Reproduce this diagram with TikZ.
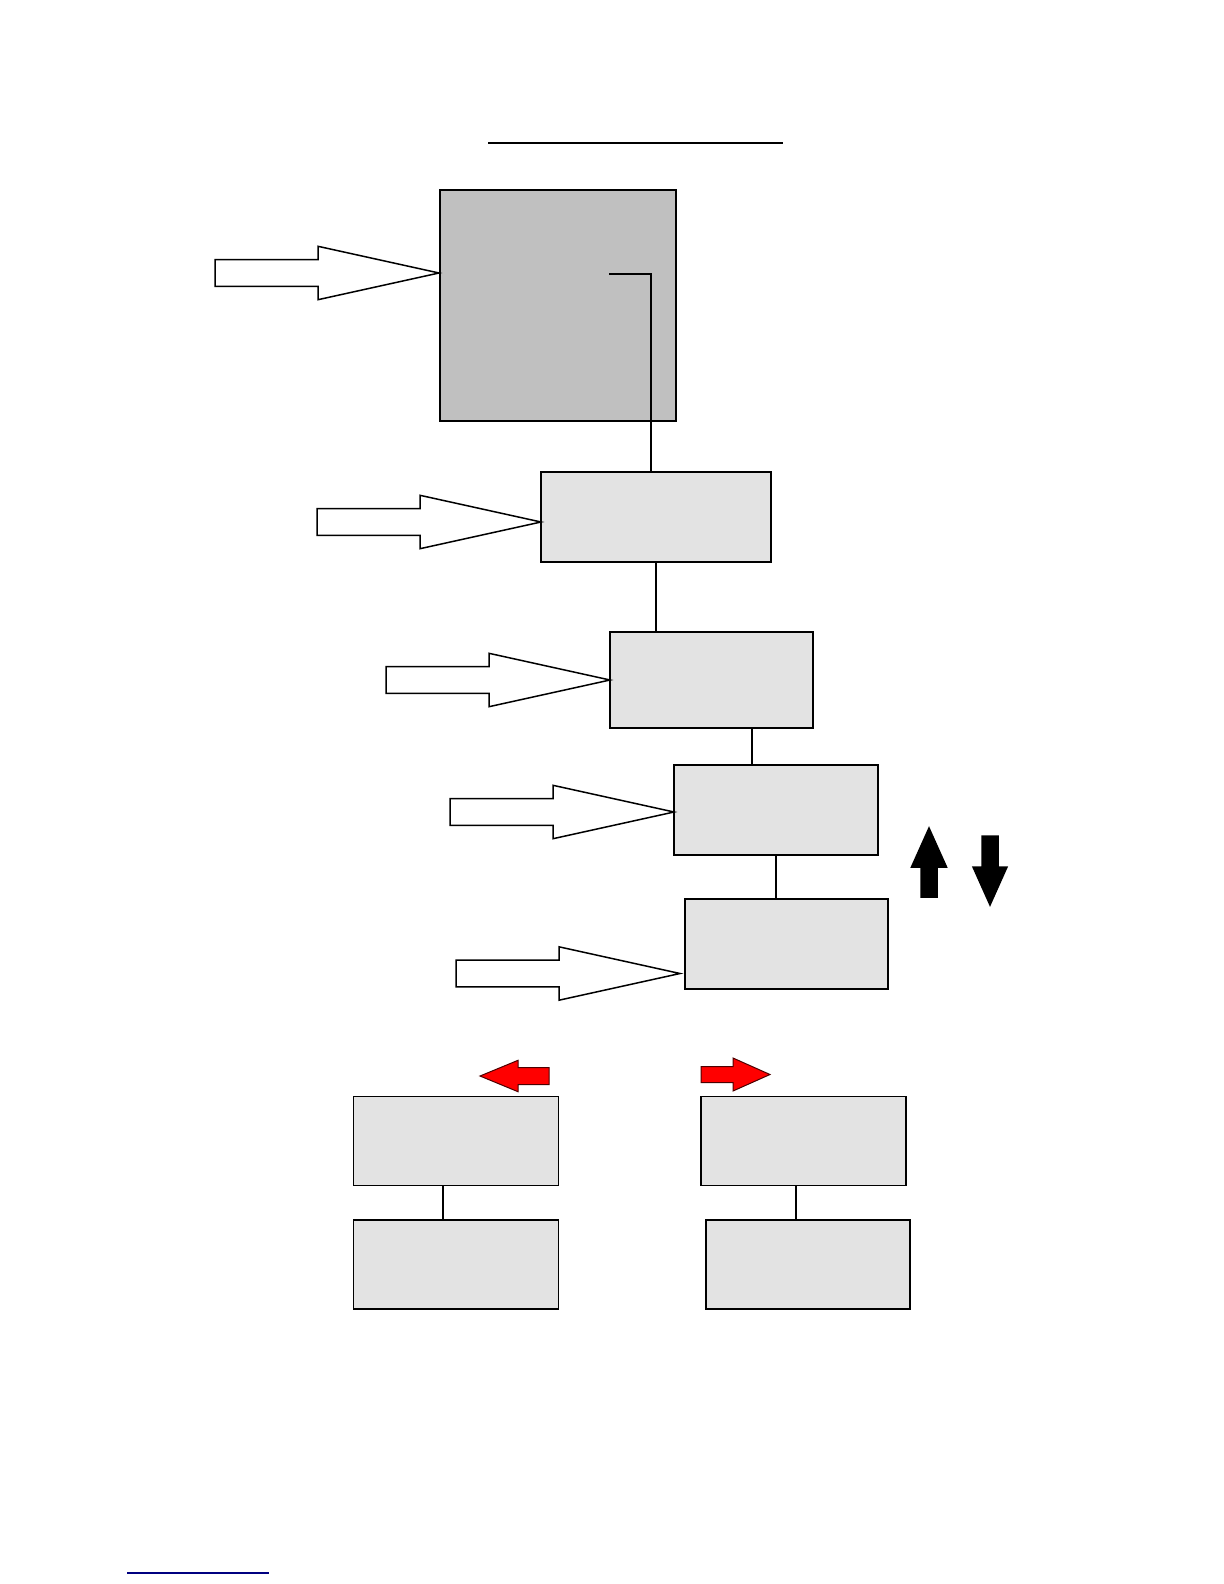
\documentclass[tikz,border=0pt]{standalone}
\usepackage{tikz}
\usetikzlibrary{positioning}
\definecolor{darkgrey}{HTML}{C0C0C0}
\definecolor{lightgrey}{HTML}{E3E3E3}
\definecolor{navyline}{HTML}{000080}
\tikzset{box/.style = {draw, fill=lightgrey, line width=.9pt, inner sep=0pt},
  bigbox/.style = {box, fill=darkgrey, line width=1.2pt},
  hollow/.style = {draw, fill=white, line width=.75pt},
  solid black/.style = {fill=black},
  redarrow/.style = {draw=black!70!red, fill=red, line width=.5pt}}
% style, tip, angle, length, head length, shaft half width, head half width
\newcommand{\blockarrow}[7]{%
  \draw[#1, shift={#2}, rotate=#3] (0,0) -- (-#5,-#7) -- (-#5,-#6) -- (-#4,-#6)
    -- (-#4,#6) -- (-#5,#6) -- (-#5,#7) -- cycle;}

\begin{document}
\begin{tikzpicture}[x=.5pt, y=-.5pt, line width=.75pt]
      \useasboundingbox (0,0) rectangle (1224,1584);
      \draw[line width=1pt] (488,143) -- (783,143);
      \node[bigbox, minimum width=118pt, minimum height=115.5pt] (core) at (558,305.5) {};
      \node[box, minimum width=115pt, minimum height=45pt] (stepa) at (656,517) {};
      \node[box, minimum width=101.5pt, minimum height=48pt] (stepb) at (711.5,680) {};
      \node[box, minimum width=102pt, minimum height=44.75pt] (stepc) at (776,810) {};
      \node[box, minimum width=101.5pt, minimum height=45pt] (stepd) at (786.5,944) {};
      \node[box, minimum width=102.5pt, minimum height=44.5pt] (lefta) at (456,1141) {};
      \node[box, minimum width=102.5pt, minimum height=44.5pt] (leftb) at (456,1264.5) {};
      \node[box, minimum width=102.5pt, minimum height=44.5pt] (righta) at (803.5,1141) {};
      \node[box, minimum width=102pt, minimum height=44.5pt] (rightb) at (808,1264.5) {};
      \coordinate (inner) at (609,274);
      \draw (inner) -| ([xshift=-2.5pt]stepa.north);
      \draw (stepa.south) -- (stepa.south |- stepb.north);
      \draw ([xshift=20.25pt]stepb.south) -- ([xshift=20.25pt]stepb.south |- stepc.north);
      \draw (stepc.south) -- (stepc.south |- stepd.north);
      \draw ([xshift=-6.5pt]lefta.south) -- ([xshift=-6.5pt]lefta.south |- leftb.north);
      \draw ([xshift=-3.75pt]righta.south) -- ([xshift=-3.75pt]righta.south |- rightb.north);
      \blockarrow{hollow}{(439,273)}{0}{224}{121}{13.3}{26.7}
      \blockarrow{hollow}{(541,522)}{0}{224}{121}{13.3}{26.7}
      \blockarrow{hollow}{(610,680)}{0}{224}{121}{13.3}{26.7}
      \blockarrow{hollow}{(674,812)}{0}{224}{121}{13.3}{26.7}
      \blockarrow{hollow}{(680,973.5)}{0}{224}{121}{13.3}{26.7}
      \blockarrow{solid black}{(929,828)}{90}{69}{39}{8}{17.5}
      \blockarrow{solid black}{(990,905)}{-90}{69}{38}{8}{17}
      \blockarrow{redarrow}{(480,1076)}{180}{69}{38}{8.5}{15.7}
      \blockarrow{redarrow}{(770,1074.5)}{0}{69}{37}{8}{16.5}
      \draw[navyline, line width=.6pt] (127,1573) -- (269,1573);
    \end{tikzpicture}
\end{document}
